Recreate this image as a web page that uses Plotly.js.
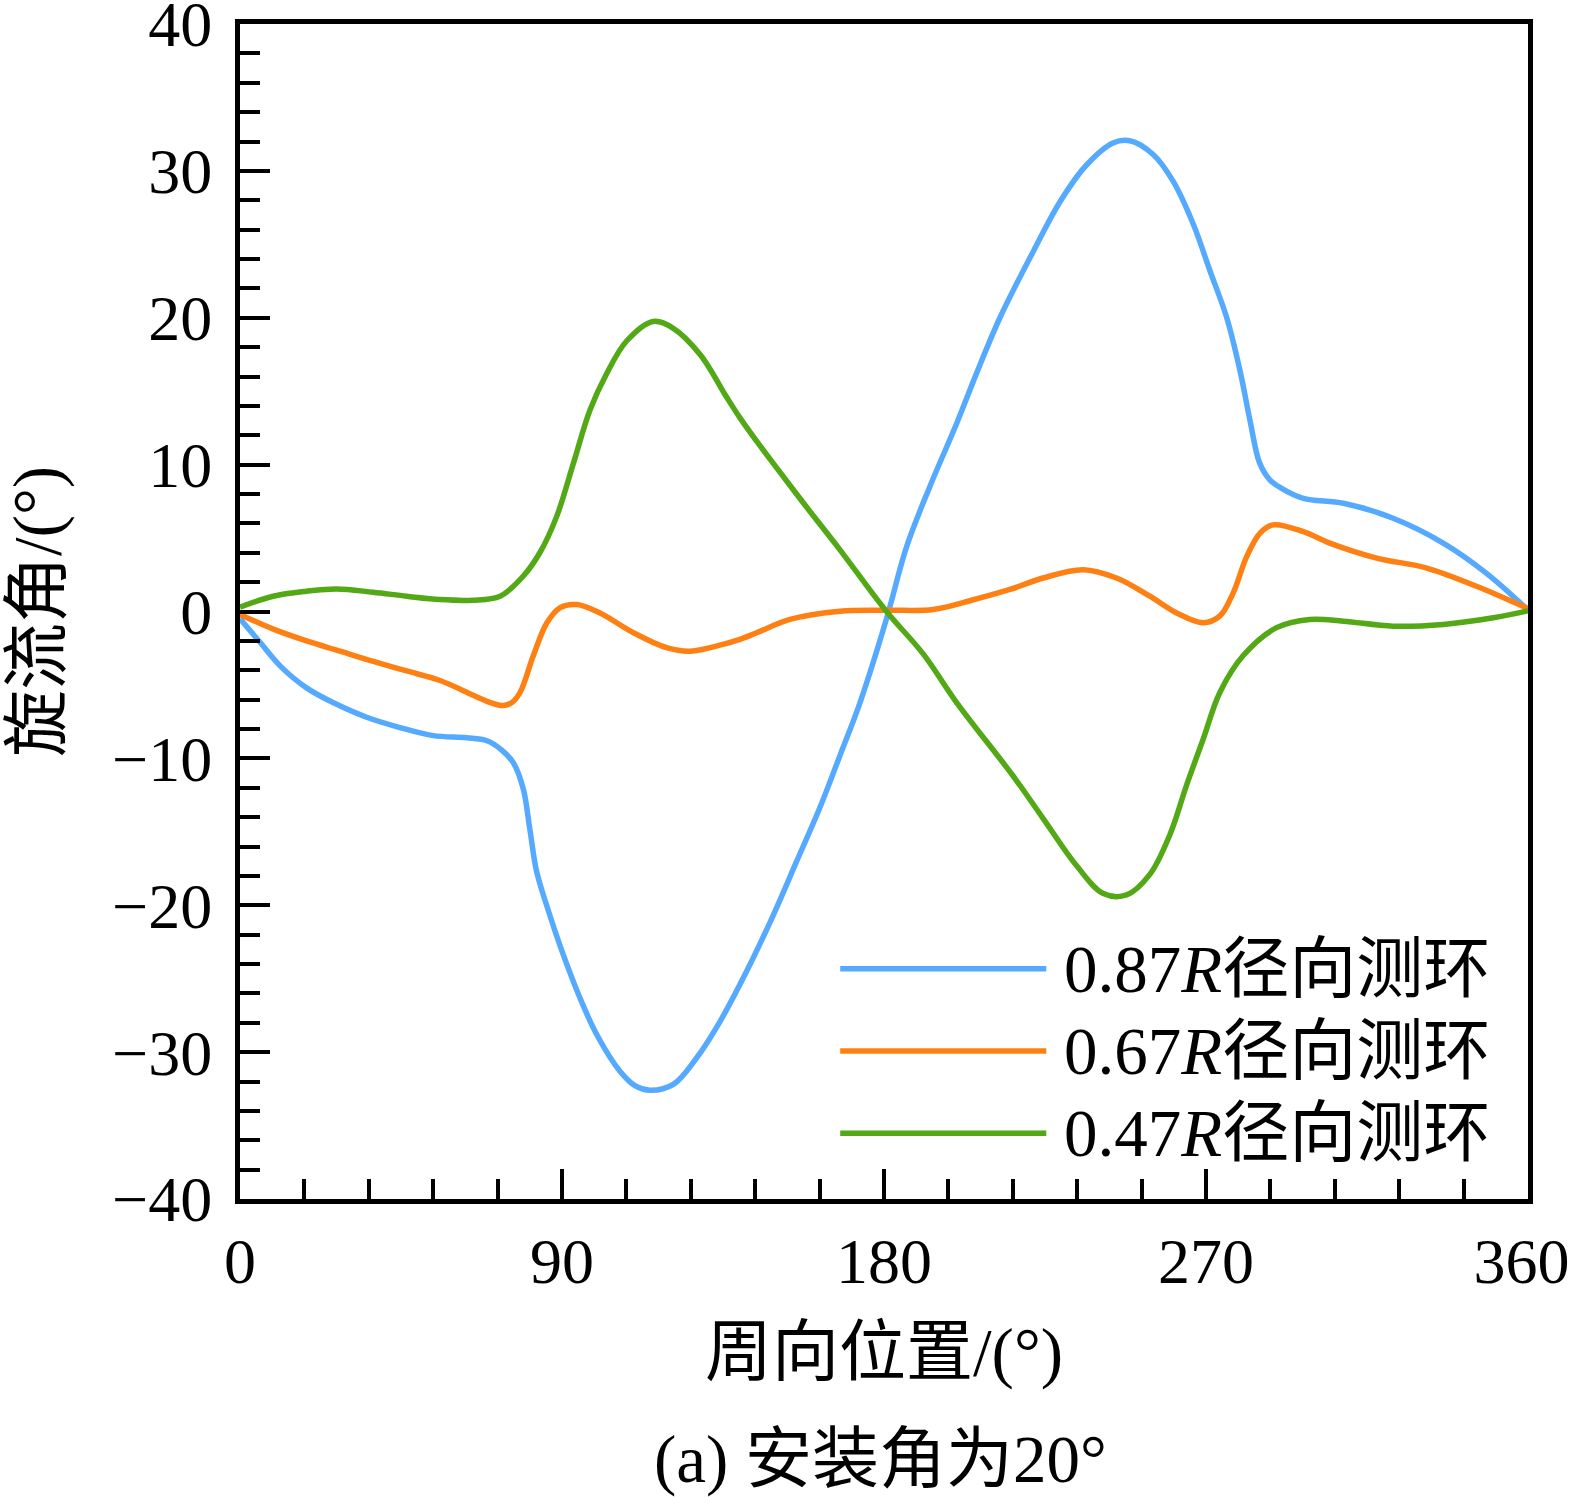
<!DOCTYPE html>
<html>
<head>
<meta charset="utf-8">
<script src="https://cdn.plot.ly/plotly-3.0.1.min.js"></script>
<style>
  html, body { margin: 0; padding: 0; background: #fff; }
  #chart { width: 1574px; height: 1497px; }
</style>
</head>
<body>
<div id="chart"></div>
<script>
// 0.87R ring
const posBlue = [0, 5.6, 11.2, 18.6, 26, 35.4, 44.7, 54, 63.4, 69, 73, 76.4, 79.2, 81, 82.9, 85.7,
  90.4, 95, 99.7, 106.2, 110.5, 114.6, 121.1, 127.6, 134.2, 141.6, 149, 155.6, 162, 167.7, 173.3,
  180.7, 186.3, 192.8, 200.3, 206, 212.4, 221.7, 229.2, 236.6, 244, 248.7, 255.3, 260.8, 266.4,
  271.1, 275.8, 279.5, 282.3, 285, 287.9, 291, 297.2, 308.4, 322.3, 336.3, 348.4, 360];
const angBlue = [-0.5, -2.1, -3.7, -5.2, -6.2, -7.2, -7.9, -8.45, -8.6, -8.8, -9.4, -10.3, -12.1, -14.8, -17.7, -20.0,
  -23.4, -26.3, -28.8, -31.3, -32.3, -32.6, -32.2, -30.4, -27.9, -24.5, -20.7, -17.0, -13.4, -9.8, -6.2,
  -0.5, 4.4, 8.5, 12.8, 16.3, 20.0, 24.5, 27.9, 30.4, 31.9, 32.05, 31.1, 29.3, 26.4,
  23.2, 20.0, 16.4, 13.0, 10.1, 8.95, 8.4, 7.7, 7.37, 6.35, 4.66, 2.6, 0.1];

// 0.67R ring
const posOrange = [0, 9.3, 18.6, 28, 37.3, 46.6, 55.9, 65.2, 70, 73.6, 76, 78.3, 82, 85.7, 89.4, 94.1,
  100.6, 110, 119.2, 125.8, 135, 139.7, 144.4, 153.7, 167.7, 180.7, 193.8, 205, 215.2, 224.5, 235.7,
  245, 254.3, 261.8, 269.2, 273.9, 277.6, 281.4, 285.1, 288.8, 297.2, 304.6, 317.7, 331.7, 345.6, 360];
const angOrange = [-0.2, -1.2, -2.0, -2.7, -3.4, -4.05, -4.7, -5.7, -6.2, -6.4, -6.2, -5.5, -3.0, -0.8, 0.25, 0.47,
  -0.1, -1.45, -2.46, -2.7, -2.24, -1.9, -1.45, -0.54, 0.02, 0.09, 0.14, 0.8, 1.5, 2.28, 2.85,
  2.28, 1.04, -0.1, -0.77, -0.3, 1.27, 3.75, 5.34, 5.9, 5.44, 4.66, 3.64, 2.96, 1.72, 0.2];

// 0.47R ring
const posGreen = [0, 9.3, 18.6, 27, 37.2, 46.6, 55.9, 65.1, 72.7, 79.1, 83.8, 88.5, 93.2, 97.8, 102.5, 108,
  115.5, 121, 128.6, 136, 139.7, 144.4, 149, 158.4, 167.7, 180.7, 191, 200.3, 216.1, 224.5, 233.8, 241.3,
  247.8, 254.3, 259.9, 264.6, 269.2, 273.9, 280.4, 289.7, 299, 308.4, 322.3, 336.3, 350.3, 360];
const angGreen = [0.3, 1.04, 1.38, 1.54, 1.31, 1.04, 0.81, 0.77, 1.04, 2.39, 4.0, 6.46, 10.1, 13.7, 16.2, 18.4,
  19.75, 19.3, 17.5, 14.6, 13.2, 11.6, 10.1, 7.1, 4.2, 0.0, -2.9, -6.2, -11.2, -14.1, -17.3, -19.2,
  -19.3, -17.9, -15.2, -11.8, -8.7, -5.5, -3.0, -1.1, -0.54, -0.66, -1.0, -0.88, -0.43, 0.05];

const seriesNames = ["0.87<i>R</i>径向测环", "0.67<i>R</i>径向测环", "0.47<i>R</i>径向测环"];
const seriesColors = ["#55aaff", "#ff8012", "#52a915"];
const xTickVals = [0, 90, 180, 270, 360];
// last label nudged inward a little, as in the source figure
const xTickText = ["0", "90", "180", "270", "360\u2009"];
const xMinorVals = [18, 36, 54, 72, 108, 126, 144, 162, 198, 216, 234, 252, 288, 306, 324, 342];
const yTickVals = [-40, -30, -20, -10, 0, 10, 20, 30, 40];

const FONT = "Liberation Serif, Times New Roman, Noto Sans CJK SC, serif";

const xs = [posBlue, posOrange, posGreen];
const ys = [angBlue, angOrange, angGreen];

const data = xs.map((x, i) => ({
  type: "scatter",
  mode: "lines",
  name: seriesNames[i],
  x: x,
  y: ys[i],
  line: { color: seriesColors[i], width: 5.5, shape: "spline", smoothing: 1 },
  hoverinfo: "skip",
}));

// hand-made legend: long line samples with text to the right
const shapes = [];
const annotations = [];
const legendRows = [0.196, 0.126, 0.056];
seriesNames.forEach((name, i) => {
  shapes.push({
    type: "line", xref: "paper", yref: "paper",
    x0: 0.466, x1: 0.626, y0: legendRows[i], y1: legendRows[i],
    line: { color: seriesColors[i], width: 5.5 },
  });
  annotations.push({
    xref: "paper", yref: "paper", x: 0.638, y: legendRows[i],
    xanchor: "left", yanchor: "middle", showarrow: false,
    text: name, font: { family: FONT, size: 67, color: "#000" },
  });
});

annotations.push({
  xref: "paper", yref: "paper", x: 0.497, y: -0.222,
  xanchor: "center", yanchor: "middle", showarrow: false,
  text: "(a) 安装角为20°", font: { family: FONT, size: 67, color: "#000" },
});

const axisCommon = {
  showgrid: false,
  zeroline: false,
  showline: true,
  linecolor: "#000",
  linewidth: 5,
  mirror: true,
  ticks: "inside",
  ticklen: 30,
  tickwidth: 4,
  tickcolor: "#000",
  ticklabeloverflow: "allow",
  tickfont: { family: FONT, size: 64, color: "#000" },
};

const layout = {
  width: 1574,
  height: 1497,
  autosize: false,
  margin: { l: 240, r: 46, t: 24, b: 298 },
  paper_bgcolor: "#fff",
  plot_bgcolor: "#fff",
  showlegend: false,
  font: { family: FONT, color: "#000" },
  xaxis: Object.assign({}, axisCommon, {
    range: [0, 360],
    tickvals: xTickVals,
    ticktext: xTickText,
    ticklabelstandoff: 2,
    minor: { tickvals: xMinorVals, ticks: "inside", ticklen: 20, tickwidth: 4, tickcolor: "#000" },
    title: { text: "周向位置/(°)", font: { family: FONT, size: 67, color: "#000" }, standoff: 34 },
  }),
  yaxis: Object.assign({}, axisCommon, {
    range: [-40, 40],
    tickvals: yTickVals,
    ticklabelstandoff: 10,
    minor: { dtick: 2, ticks: "inside", ticklen: 20, tickwidth: 4, tickcolor: "#000" },
    title: { text: "旋流角/(°)", font: { family: FONT, size: 67, color: "#000" }, standoff: 34 },
  }),
  shapes: shapes,
  annotations: annotations,
};

Plotly.newPlot("chart", data, layout, { staticPlot: true });
</script>
</body>
</html>
